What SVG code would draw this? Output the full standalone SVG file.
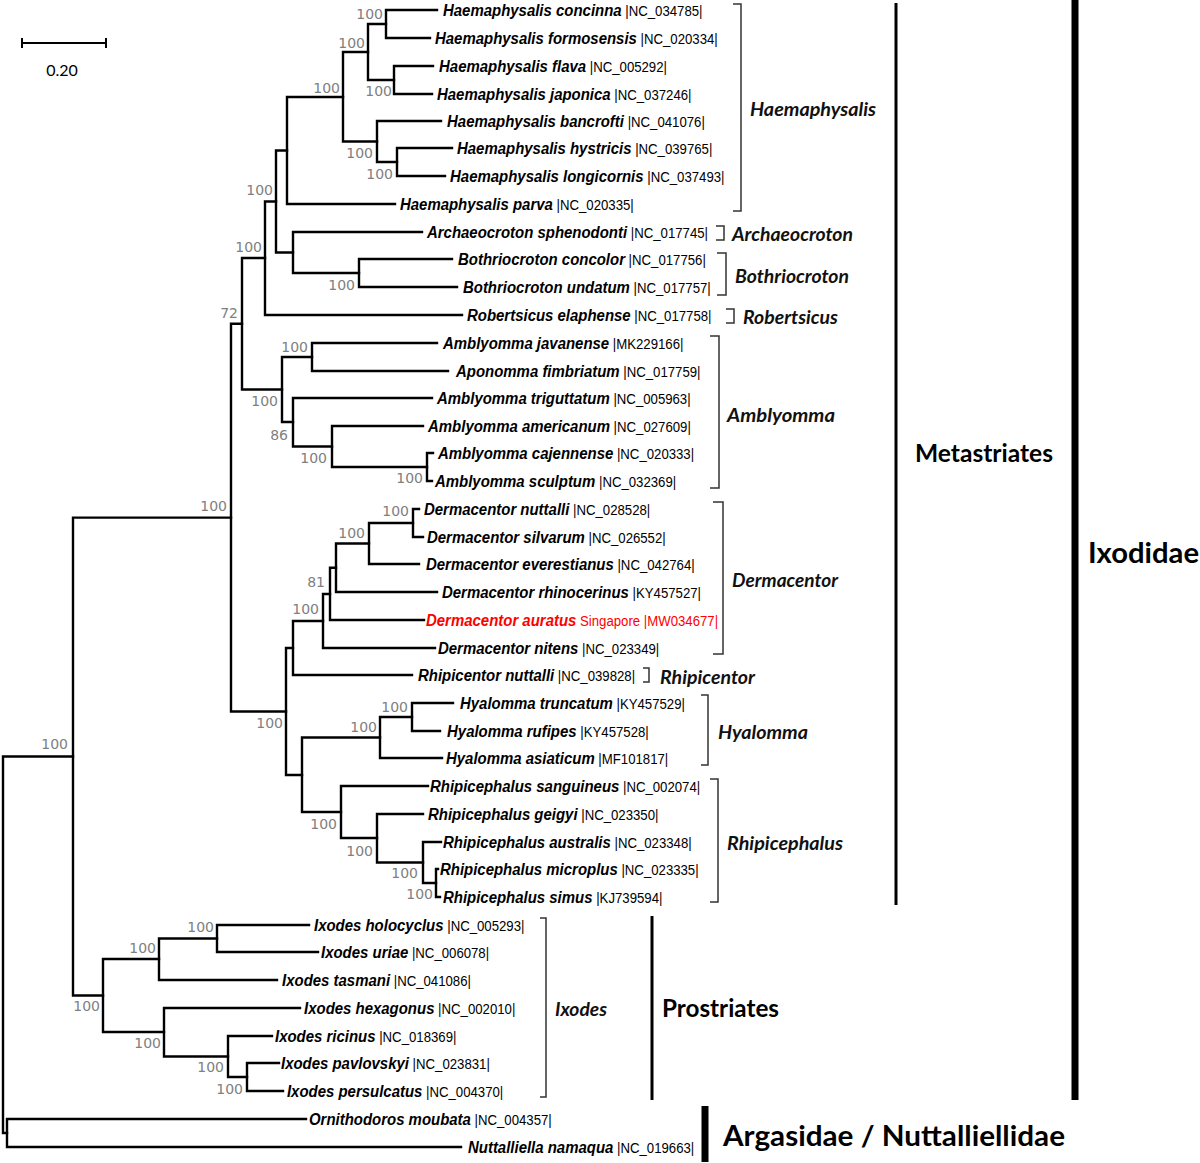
<svg xmlns="http://www.w3.org/2000/svg" width="1200" height="1163" viewBox="0 0 1200 1163">
<style>
.br{fill:none;stroke:#000;stroke-width:2.4;stroke-linecap:square}
.gb{fill:none;stroke:#333;stroke-width:1.5}
.sp{font-family:"Liberation Sans",Arial,sans-serif;font-style:italic;font-weight:bold;font-size:17px;fill:#000}
.acc{font-style:normal;font-weight:normal;font-size:15px}
.red{fill:#ff0000}
.bs{font-family:"DejaVu Sans",sans-serif;font-size:14px;fill:#808080;text-anchor:end}
.gn{font-family:Lato,"Open Sans",sans-serif;font-style:italic;font-weight:bold;font-size:19px;fill:#111}
.cl{font-family:Lato,"Open Sans",sans-serif;font-weight:bold;fill:#000}
</style>
<rect width="1200" height="1163" fill="#fff"/>
<g id="scalebar">
<path d="M22,43H106M22,38V48M106,38V48" fill="none" stroke="#000" stroke-width="2"/>
<text x="62" y="76" text-anchor="middle" font-family="Lato,sans-serif" font-size="16">0.20</text>
</g>
<g id="connectors" class="br">
<path d="M386,10V38M386,10H437M386,38H430"/>
<path d="M394,66V94M394,66H433M394,94H432"/>
<path d="M368,24V80M368,24H386M368,80H394"/>
<path d="M397,148V176M397,148H452M397,176H445"/>
<path d="M377,121V162M377,121H441M377,162H397"/>
<path d="M343,52V141.5M343,52H368M343,141.5H377"/>
<path d="M287,97V204M287,97H343M287,204H395"/>
<path d="M359,259V287M359,259H452M359,287H457"/>
<path d="M293,232V273M293,232H422M293,273H359"/>
<path d="M276,150.5V252.5M276,150.5H287M276,252.5H293"/>
<path d="M265,201.5V315M265,201.5H276M265,315H462"/>
<path d="M312,343V371M312,343H437M312,371H448"/>
<path d="M427,453V481M427,453H433M427,481H432"/>
<path d="M332,426V467M332,426H423M332,467H427"/>
<path d="M293,398V446.5M293,398H432M293,446.5H332"/>
<path d="M282,357V422M282,357H312M282,422H293"/>
<path d="M242,258V389.5M242,258H265M242,389.5H282"/>
<path d="M413,509V537M413,509H419M413,537H423"/>
<path d="M369,523V564M369,523H413M369,564H419"/>
<path d="M336,543.5V592M336,543.5H369M336,592H437"/>
<path d="M330,567.7V620M330,567.7H336M330,620H424"/>
<path d="M323,594V648M323,594H330M323,648H435"/>
<path d="M293,621V675M293,621H323M293,675H412"/>
<path d="M412,703V731M412,703H453M412,731H440"/>
<path d="M380,717V758M380,717H412M380,758H442"/>
<path d="M436,869V897M436,869H438M436,897H440"/>
<path d="M423,842V883M423,842H441M423,883H436"/>
<path d="M377,814V862.5M377,814H423M377,862.5H423"/>
<path d="M341,786V838M341,786H428M341,838H377"/>
<path d="M302,737.5V812M302,737.5H380M302,812H341"/>
<path d="M286,648V775M286,648H293M286,775H302"/>
<path d="M231,323.7V711.5M231,323.7H242M231,711.5H286"/>
<path d="M217,925V952M217,925H309M217,952H318"/>
<path d="M159,938.5V980M159,938.5H217M159,980H277"/>
<path d="M247,1063V1091M247,1063H279M247,1091H283"/>
<path d="M228,1036V1077M228,1036H272M228,1077H247"/>
<path d="M164,1008V1056.5M164,1008H300M164,1056.5H228"/>
<path d="M103,959V1032M103,959H159M103,1032H164"/>
<path d="M73,517.6V995.5M73,517.6H231M73,995.5H103"/>
<path d="M7,1119V1147M7,1119H306M7,1147H461"/>
<path d="M3,756.5V1133M3,756.5H73M3,1133H7"/>
</g>
<g id="bootstrap" class="bs">
<text x="383" y="19">100</text><text x="365" y="48">100</text><text x="392" y="96">100</text>
<text x="340" y="93">100</text><text x="373" y="158">100</text><text x="393" y="179">100</text>
<text x="273" y="195">100</text><text x="355" y="290">100</text><text x="262" y="252">100</text>
<text x="238" y="318">72</text><text x="227" y="511">100</text><text x="68" y="749">100</text>
<text x="308" y="352">100</text><text x="278" y="406">100</text><text x="288" y="440">86</text>
<text x="327" y="463">100</text><text x="423" y="483">100</text><text x="409" y="516">100</text>
<text x="365" y="538">100</text><text x="325" y="587">81</text><text x="319" y="614">100</text>
<text x="283" y="728">100</text><text x="377" y="732">100</text><text x="408" y="712">100</text>
<text x="337" y="829">100</text><text x="373" y="856">100</text><text x="418" y="878">100</text>
<text x="433" y="899">100</text><text x="214" y="932">100</text><text x="156" y="953">100</text>
<text x="100" y="1011">100</text><text x="161" y="1048">100</text><text x="224" y="1072">100</text>
<text x="243" y="1094">100</text>
</g>
<g id="tips" class="sp" transform="scale(0.88,1)">
<g id="t01"><text x="503.4" y="16">Haemaphysalis concinna<tspan class="acc"> |NC_034785|</tspan></text></g>
<g id="t02"><text x="494.3" y="44">Haemaphysalis formosensis<tspan class="acc"> |NC_020334|</tspan></text></g>
<g id="t03"><text x="498.9" y="72">Haemaphysalis flava<tspan class="acc"> |NC_005292|</tspan></text></g>
<g id="t04"><text x="496.6" y="100">Haemaphysalis japonica<tspan class="acc"> |NC_037246|</tspan></text></g>
<g id="t05"><text x="508" y="127">Haemaphysalis bancrofti<tspan class="acc"> |NC_041076|</tspan></text></g>
<g id="t06"><text x="519.3" y="154">Haemaphysalis hystricis<tspan class="acc"> |NC_039765|</tspan></text></g>
<g id="t07"><text x="511.4" y="182">Haemaphysalis longicornis<tspan class="acc"> |NC_037493|</tspan></text></g>
<g id="t08"><text x="454.5" y="210">Haemaphysalis parva<tspan class="acc"> |NC_020335|</tspan></text></g>
<g id="t09"><text x="485.2" y="238">Archaeocroton sphenodonti<tspan class="acc"> |NC_017745|</tspan></text></g>
<g id="t10"><text x="520.5" y="265">Bothriocroton concolor<tspan class="acc"> |NC_017756|</tspan></text></g>
<g id="t11"><text x="526.1" y="293">Bothriocroton undatum<tspan class="acc"> |NC_017757|</tspan></text></g>
<g id="t12"><text x="530.7" y="321">Robertsicus elaphense<tspan class="acc"> |NC_017758|</tspan></text></g>
<g id="t13"><text x="503.4" y="349">Amblyomma javanense<tspan class="acc"> |MK229166|</tspan></text></g>
<g id="t14"><text x="518.2" y="377">Aponomma fimbriatum<tspan class="acc"> |NC_017759|</tspan></text></g>
<g id="t15"><text x="496.6" y="404">Amblyomma triguttatum<tspan class="acc"> |NC_005963|</tspan></text></g>
<g id="t16"><text x="486.4" y="432">Amblyomma americanum<tspan class="acc"> |NC_027609|</tspan></text></g>
<g id="t17"><text x="497.7" y="459">Amblyomma cajennense<tspan class="acc"> |NC_020333|</tspan></text></g>
<g id="t18"><text x="494.3" y="487">Amblyomma sculptum<tspan class="acc"> |NC_032369|</tspan></text></g>
<g id="t19"><text x="481.8" y="515">Dermacentor nuttalli<tspan class="acc"> |NC_028528|</tspan></text></g>
<g id="t20"><text x="485.2" y="543">Dermacentor silvarum<tspan class="acc"> |NC_026552|</tspan></text></g>
<g id="t21"><text x="484.1" y="570">Dermacentor everestianus<tspan class="acc"> |NC_042764|</tspan></text></g>
<g id="t22"><text x="502.3" y="598">Dermacentor rhinocerinus<tspan class="acc"> |KY457527|</tspan></text></g>
<g id="t23"><text x="484.1" y="626" class="sp red">Dermacentor auratus<tspan class="acc"> Singapore |MW034677|</tspan></text></g>
<g id="t24"><text x="497.7" y="654">Dermacentor nitens<tspan class="acc"> |NC_023349|</tspan></text></g>
<g id="t25"><text x="475" y="681">Rhipicentor nuttalli<tspan class="acc"> |NC_039828|</tspan></text></g>
<g id="t26"><text x="522.7" y="709">Hyalomma truncatum<tspan class="acc"> |KY457529|</tspan></text></g>
<g id="t27"><text x="508" y="737">Hyalomma rufipes<tspan class="acc"> |KY457528|</tspan></text></g>
<g id="t28"><text x="506.8" y="764">Hyalomma asiaticum<tspan class="acc"> |MF101817|</tspan></text></g>
<g id="t29"><text x="488.6" y="792">Rhipicephalus sanguineus<tspan class="acc"> |NC_002074|</tspan></text></g>
<g id="t30"><text x="486.4" y="820">Rhipicephalus geigyi<tspan class="acc"> |NC_023350|</tspan></text></g>
<g id="t31"><text x="503.4" y="848">Rhipicephalus australis<tspan class="acc"> |NC_023348|</tspan></text></g>
<g id="t32"><text x="500" y="875">Rhipicephalus microplus<tspan class="acc"> |NC_023335|</tspan></text></g>
<g id="t33"><text x="503.4" y="903">Rhipicephalus simus<tspan class="acc"> |KJ739594|</tspan></text></g>
<g id="t34"><text x="356.8" y="931">Ixodes holocyclus<tspan class="acc"> |NC_005293|</tspan></text></g>
<g id="t35"><text x="364.8" y="958">Ixodes uriae<tspan class="acc"> |NC_006078|</tspan></text></g>
<g id="t36"><text x="320.5" y="986">Ixodes tasmani<tspan class="acc"> |NC_041086|</tspan></text></g>
<g id="t37"><text x="345.5" y="1014">Ixodes hexagonus<tspan class="acc"> |NC_002010|</tspan></text></g>
<g id="t38"><text x="312.5" y="1042">Ixodes ricinus<tspan class="acc"> |NC_018369|</tspan></text></g>
<g id="t39"><text x="319.3" y="1069">Ixodes pavlovskyi<tspan class="acc"> |NC_023831|</tspan></text></g>
<g id="t40"><text x="326.1" y="1097">Ixodes persulcatus<tspan class="acc"> |NC_004370|</tspan></text></g>
<g id="t41"><text x="351.1" y="1125">Ornithodoros moubata<tspan class="acc"> |NC_004357|</tspan></text></g>
<g id="t42"><text x="531.8" y="1153">Nuttalliella namaqua<tspan class="acc"> |NC_019663|</tspan></text></g>
</g>
<g id="genera">
<g id="g-haemaphysalis"><path class="gb" d="M733,4H741V211H733"/><text class="gn" x="750" y="116" textLength="126" lengthAdjust="spacingAndGlyphs">Haemaphysalis</text></g>
<g id="g-archaeocroton"><path class="gb" d="M716,226H724V240H716"/><text class="gn" x="732" y="241" textLength="121" lengthAdjust="spacingAndGlyphs">Archaeocroton</text></g>
<g id="g-bothriocroton"><path class="gb" d="M717,253H726V295H717"/><text class="gn" x="735" y="283" textLength="114" lengthAdjust="spacingAndGlyphs">Bothriocroton</text></g>
<g id="g-robertsicus"><path class="gb" d="M726,309H734V323H726"/><text class="gn" x="743" y="324" textLength="95" lengthAdjust="spacingAndGlyphs">Robertsicus</text></g>
<g id="g-amblyomma"><path class="gb" d="M710,336H719V488H710"/><text class="gn" x="727" y="422" textLength="108" lengthAdjust="spacingAndGlyphs">Amblyomma</text></g>
<g id="g-dermacentor"><path class="gb" d="M713,502H723V654H713"/><text class="gn" x="732" y="587" textLength="106" lengthAdjust="spacingAndGlyphs">Dermacentor</text></g>
<g id="g-rhipicentor"><path class="gb" d="M643,668H649V682H643"/><text class="gn" x="660" y="684" textLength="95" lengthAdjust="spacingAndGlyphs">Rhipicentor</text></g>
<g id="g-hyalomma"><path class="gb" d="M701,695H708V765H701"/><text class="gn" x="718" y="739" textLength="90" lengthAdjust="spacingAndGlyphs">Hyalomma</text></g>
<g id="g-rhipicephalus"><path class="gb" d="M710,779H718V902H710"/><text class="gn" x="727" y="850" textLength="116" lengthAdjust="spacingAndGlyphs">Rhipicephalus</text></g>
<g id="g-ixodes"><path class="gb" d="M540,918H546V1097H540"/><text class="gn" x="555" y="1016" textLength="52" lengthAdjust="spacingAndGlyphs">Ixodes</text></g>
</g>
<g id="clades">
<g id="c-metastriates"><line x1="896" y1="3" x2="896" y2="905" stroke="#000" stroke-width="3"/><text class="cl" x="915" y="462" font-size="24" textLength="138" lengthAdjust="spacingAndGlyphs">Metastriates</text></g>
<g id="c-prostriates"><line x1="652" y1="916" x2="652" y2="1100" stroke="#000" stroke-width="3"/><text class="cl" x="662" y="1017" font-size="24" textLength="117" lengthAdjust="spacingAndGlyphs">Prostriates</text></g>
<g id="c-ixodidae"><line x1="1075" y1="0" x2="1075" y2="1100" stroke="#000" stroke-width="7"/><text class="cl" x="1088" y="563" font-size="28" textLength="111" lengthAdjust="spacingAndGlyphs">Ixodidae</text></g>
<g id="c-argasidae"><line x1="705" y1="1106" x2="705" y2="1162" stroke="#000" stroke-width="7"/><text class="cl" x="723" y="1146" font-size="28" textLength="342" lengthAdjust="spacingAndGlyphs">Argasidae / Nuttalliellidae</text></g>
</g>
</svg>
